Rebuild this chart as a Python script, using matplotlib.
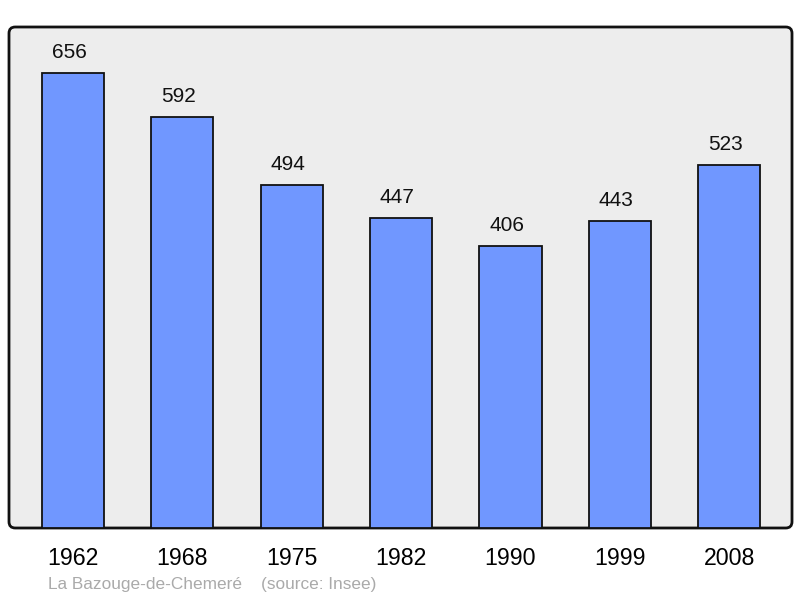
import matplotlib
matplotlib.use("Agg")
import matplotlib.pyplot as plt
from matplotlib.patches import FancyBboxPatch

years = ["1962", "1968", "1975", "1982", "1990", "1999", "2008"]
population = [656, 592, 494, 447, 406, 443, 523]

plt.rcParams['font.family'] = ['Liberation Sans', 'DejaVu Sans']

fig = plt.figure(figsize=(8, 5.98), dpi=100)
ax = fig.add_axes([9/800, 70/598, 783/800, 501/598])
ax.set_facecolor('none')

x = list(range(len(years)))
bars = ax.bar(x, population, width=0.57, color='#7097FF', edgecolor='#111111', linewidth=1.3, zorder=3)
ax.set_xlim(-0.585, 6.575)
ax.set_ylim(0, 722)

for xi, v in zip(x, population):
    ax.annotate(str(v), (xi, v), xytext=(-2.8, 14.8), textcoords='offset points',
                ha='center', va='center', fontsize=15, color='#111111')

ax.set_xticks(x)
ax.set_xticklabels(years, fontsize=16.7)
ax.tick_params(axis='x', length=0, pad=13.5)
ax.set_yticks([])
for s in ax.spines.values():
    s.set_visible(False)

frame = FancyBboxPatch((0, 0), 1, 1, boxstyle='round,pad=0,rounding_size=0.008',
                       transform=ax.transAxes, facecolor='#EDEDED', edgecolor='#111111',
                       linewidth=2, zorder=0, clip_on=False, mutation_aspect=783/501)
ax.add_patch(frame)

fig.text(48/800, 1 - 584/598, "La Bazouge-de-Chemeré    (source: Insee)", fontsize=12.4,
         color='#AAAAAA', ha='left', va='center')

fig.savefig('out.png', dpi=100)
